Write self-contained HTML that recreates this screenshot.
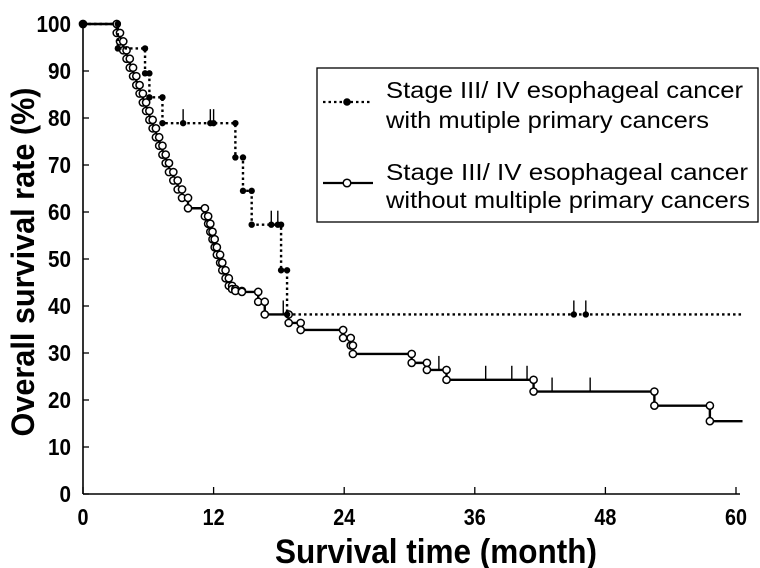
<!DOCTYPE html>
<html><head><meta charset="utf-8"><style>
body{margin:0;background:#fff;}
svg{display:block;font-family:"Liberation Sans",Arial,sans-serif;}
</style></head><body>
<svg id="chart" width="760" height="568" viewBox="0 0 760 568">
<g id="axes"></g>
<g id="series"></g>
<g id="legend">
  <rect x="317" y="68" width="441" height="154" fill="#fff" stroke="#000" stroke-width="1.3"/>
  <line x1="323" y1="102" x2="371" y2="102" stroke="#000" stroke-width="2.2" stroke-dasharray="2.5,3"/>
  <circle cx="347" cy="102" r="3.8" fill="#000"/>
  <text x="386" y="98" font-size="23" textLength="357" lengthAdjust="spacingAndGlyphs">Stage III/ IV esophageal cancer</text>
  <text x="386" y="128" font-size="23" textLength="323" lengthAdjust="spacingAndGlyphs">with mutiple primary cancers</text>
  <line x1="323" y1="183" x2="373" y2="183" stroke="#000" stroke-width="2.2"/>
  <circle cx="347" cy="183" r="3.8" fill="#fff" stroke="#000" stroke-width="1.5"/>
  <text x="386" y="180" font-size="23" textLength="362" lengthAdjust="spacingAndGlyphs">Stage III/ IV  esophageal cancer</text>
  <text x="386" y="208" font-size="23" textLength="364" lengthAdjust="spacingAndGlyphs">without multiple primary cancers</text>
</g>
</svg>
<script>
const xTicks=[0,12,24,36,48,60];
const yTicks=[0,10,20,30,40,50,60,70,80,90,100];
const endTime=60.6;
// With multiple primary cancers: event times and survival after event
const mpcTimes=[3.2,5.7,6.1,7.3,14.0,14.7,15.5,18.2,18.75];
const mpcSurv=[94.8,89.5,84.4,78.9,71.6,64.5,57.3,47.6,38.2];
const mpcCensor=[9.2,11.7,12.0,17.3,17.9,45.1,46.2];
// Without multiple primary cancers
const noTimes=[3.1,3.4,3.7,4.0,4.3,4.6,4.9,5.2,5.5,5.8,6.1,6.4,6.7,7.0,7.3,7.6,7.9,8.3,8.7,9.1,9.65,
  11.2,11.5,11.7,11.9,12.1,12.3,12.6,12.8,13.1,13.4,13.7,14.0,14.6,
  16.1,16.7,18.9,20.0,23.9,24.6,24.8,30.2,31.6,33.4,41.4,52.5,57.6];
const noSurv=[98.1,96.3,94.4,92.6,90.7,88.9,87.0,85.2,83.3,81.5,79.6,77.8,75.9,74.1,72.2,70.4,68.5,66.7,64.8,63.0,60.8,
  59.1,57.5,55.8,54.2,52.5,50.9,49.2,47.6,45.9,44.3,43.6,43.2,43.0,
  40.9,38.2,36.4,34.9,33.2,31.6,29.8,27.9,26.4,24.3,21.8,18.8,15.5];
const noCensor=[18.4,32.7,37.0,39.4,40.8,43.1,46.6];

const NS='http://www.w3.org/2000/svg';
const X=t=>83+t*(653/60);
const Y=v=>494-v*4.7;
function mk(tag,attrs,parent){const e=document.createElementNS(NS,tag);for(const k in attrs)e.setAttribute(k,attrs[k]);parent.appendChild(e);return e;}
const axes=document.getElementById('axes'), ser=document.getElementById('series');

const yAxis=mk('line',{x1:X(0),y1:Y(0),x2:X(0),y2:Y(100)-2,stroke:'#000','stroke-width':1.6},axes);


const xAxis=mk('line',{x1:X(0),y1:Y(0),x2:X(60)+4,y2:Y(0),stroke:'#000','stroke-width':1.6},axes);


yTicks.forEach(v=>{
  const t=mk('line',{x1:X(0),y1:Y(v),x2:X(0)+6,y2:Y(v),stroke:'#000','stroke-width':1.3},axes);
  
  
  const s=String(v);
  const l=mk('text',{x:71,y:Y(v)+8,'text-anchor':'end','font-size':23,'font-weight':'bold',textLength:s.length*11.5,lengthAdjust:'spacingAndGlyphs'},axes);
  l.textContent=s;
  
  
});
xTicks.forEach(v=>{
  const t=mk('line',{x1:X(v),y1:Y(0),x2:X(v),y2:Y(0)-7,stroke:'#000','stroke-width':1.3},axes);
  
  
  const s=String(v);
  const l=mk('text',{x:X(v),y:525,'text-anchor':'middle','font-size':23,'font-weight':'bold',textLength:s.length*11,lengthAdjust:'spacingAndGlyphs'},axes);
  l.textContent=s;
  
  
});
const xt=mk('text',{x:436,y:563,'text-anchor':'middle','font-size':34,'font-weight':'bold',textLength:322,lengthAdjust:'spacingAndGlyphs'},axes);
xt.textContent='Survival time (month)';


const yt=mk('text',{x:0,y:0,'text-anchor':'middle','font-size':32,'font-weight':'bold',textLength:349,lengthAdjust:'spacingAndGlyphs',transform:'translate(34,262) rotate(-90)'},axes);
yt.textContent='Overall survival rate (%)';



function survAt(times,surv,t){let s=100;for(let i=0;i<times.length;i++){if(times[i]<=t)s=surv[i];}return s;}
function drawKM(times,surv,censor,dotted,name){
  const g=mk('g',{},ser);
  
  
  let d='M'+X(0)+','+Y(100);
  times.forEach((t,i)=>{d+=' H'+X(t)+' V'+Y(surv[i]);});
  d+=' H'+X(endTime);
  const p=mk('path',{d:d,fill:'none',stroke:'#000','stroke-width':2.4,'stroke-dasharray':dotted?'2.5,3':'none'},g);
  
  
  censor.forEach(t=>{
    const s=survAt(times,surv,t);
    const c=mk('line',{x1:X(t),y1:Y(s),x2:X(t),y2:Y(s)-14,stroke:'#000','stroke-width':1.4},g);
    
    
    if(dotted){const m=mk('circle',{cx:X(t),cy:Y(s),r:3.2,fill:'#000'},g);
      
      }
  });
  let pv=100;
  const pts=[[0,100]];
  times.forEach((t,i)=>{pts.push([t,pv]);pts.push([t,surv[i]]);pv=surv[i];});
  pts.forEach(([t,v])=>{
    const m=mk('circle',{cx:X(t),cy:Y(v),r:dotted?3.2:3.6,fill:dotted?'#000':'#fff',stroke:'#000','stroke-width':dotted?0:1.5},g);
    
    
  });
}
drawKM(noTimes,noSurv,noCensor,false,'without-mpc-series');
drawKM(mpcTimes,mpcSurv,mpcCensor,true,'with-mpc-series');
</script>
</body></html>
